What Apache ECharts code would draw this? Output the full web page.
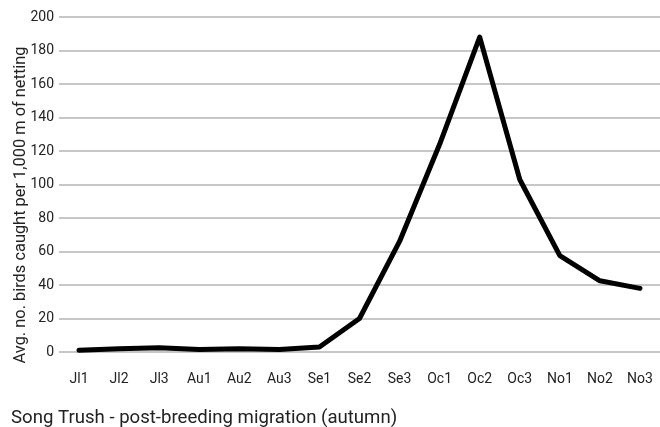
<!DOCTYPE html>
<html><head><meta charset="utf-8">
<script src="https://cdn.jsdelivr.net/npm/echarts@6/dist/echarts.min.js"></script>
<style>html,body{margin:0;padding:0;background:#fff}#c{width:660px;height:427px}</style>
</head><body><div id="c"></div>
<script>
const categories = ['Jl1','Jl2','Jl3','Au1','Au2','Au3','Se1','Se2','Se3','Oc1','Oc2','Oc3','No1','No2','No3'];
const values = [1, 2, 2.5, 1.5, 2, 1.5, 3, 20, 66, 124, 188, 103, 57.5, 42.5, 38];
const yTicks = [0, 20, 40, 60, 80, 100, 120, 140, 160, 180, 200];
const yTitle = 'Avg. no. birds caught per 1,000 m of netting';
const chartTitle = 'Song Trush - post-breeding migration (autumn)';
const font = 'Roboto';
const chart = echarts.init(document.getElementById('c'), null, {renderer: 'canvas'});
chart.setOption({
  animation: false,
  title: {text: chartTitle, left: 6, top: 404, textStyle: {fontFamily: font, fontSize: 18.6, fontWeight: 'normal', color: '#222'}},
  graphic: [{type: 'text', x: 21, y: 205, rotation: Math.PI / 2,
    style: {text: yTitle, fontFamily: font, fontSize: 16.4, fill: '#222', align: 'center', verticalAlign: 'middle'}}],
  grid: {left: 59, right: 0, top: 17, bottom: 75},
  xAxis: {type: 'category', data: categories, boundaryGap: true,
    axisLine: {show: false}, axisTick: {show: false},
    axisLabel: {margin: 20, fontFamily: font, fontSize: 14, color: '#222'}},
  yAxis: {type: 'value', min: yTicks[0], max: yTicks[yTicks.length-1], interval: 20,
    axisLine: {show: false}, axisTick: {show: false},
    axisLabel: {margin: 5, fontFamily: font, fontSize: 14, color: '#222'},
    splitLine: {lineStyle: {color: '#b4b4b4', width: 1.5}}},
  series: [{type: 'line', data: values, showSymbol: false, symbol: 'none',
    lineStyle: {color: '#000', width: 5, join: 'round', cap: 'round'}}]
});
</script></body></html>
